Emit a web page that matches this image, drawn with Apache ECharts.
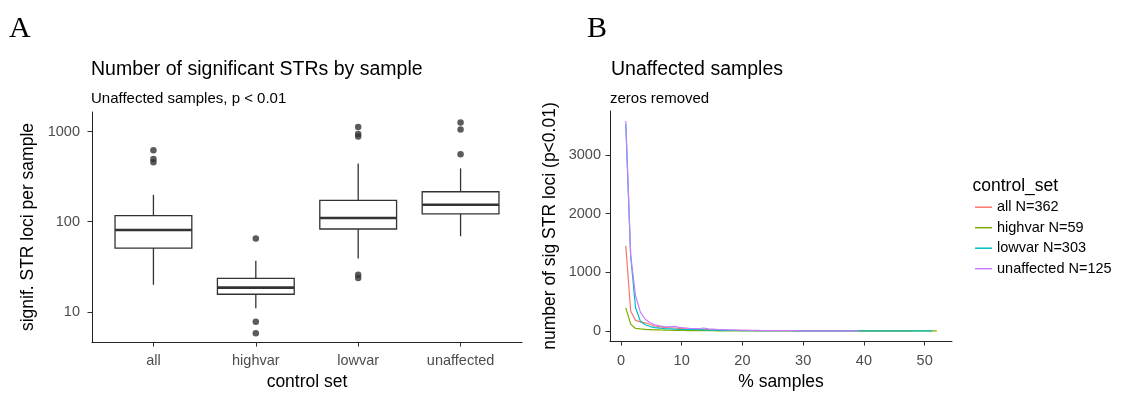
<!DOCTYPE html>
<html>
<head>
<meta charset="utf-8">
<script src="https://cdn.jsdelivr.net/npm/echarts@6/dist/echarts.min.js"></script>
<style>
html,body{margin:0;padding:0;background:#fff;}
#c{width:1123px;height:396px;}
</style>
</head>
<body>
<div id="c"></div>
<script>
// ---------- Panel A data ----------
const categories = ['all', 'highvar', 'lowvar', 'unaffected'];
// [lower whisker, Q1, median, Q3, upper whisker]
const boxAll = [20, 51, 81, 117, 199];
const boxHighvar = [11, 15.7, 18.6, 23.5, 37];
const boxLowvar = [39, 83, 110, 172, 441];
const boxUnaffected = [69, 122, 154, 215, 390];
const outAll = [620, 495, 456];
const outHighvar = [65, 7.8, 5.8];
const outLowvar = [1120, 940, 880, 25.9, 23.8];
const outUnaffected = [1260, 1050, 561];
const yTicksA = [10, 100, 1000];

// ---------- Panel B data ----------
const pctSamples = [0.8,1.6,2.4,3.2,4.0,4.8,5.6,6.4,7.2,8.0,8.8,9.6,10.4,11.2,12.0,12.8,13.6,14.4,15.2,16.0,
  16.8,17.6,18.4,19.2,20.0,20.8,21.6,22.4,23.2,24.0,24.8,25.6,26.4,27.2,28.0,28.8,29.6,30.4,31.2,32.0,
  32.8,33.6,34.4,35.2,36.0,36.8,37.6,38.4,39.2,40.0,40.8,41.6,42.4,43.2,44.0,44.8,45.6,46.4,47.2,48.0,
  48.8,49.6,50.4,51.2,52.0];
const lociAll = [1450,340,180,155,140,110,85,70,60,55,50,45,40,35,30,27,25,22,20,18,
  16,14,12,11,10,9,8,7,6,6,5,5,4,4,4,3,3,3,3,2,2,2,2,2,2,1,1,1,1,1,1,1,1,1,1,1,1,1,1,1];
const lociHighvar = [393,117,43,35,28,24,20,17,15,12,10,9,8,7,6,5,5,4,4,3,
  3,3,3,2,2,2,2,2,2,2,2,2,2,1,1,1,1,1,1,1,1,1,1,1,1,1,1,1,1,1,1,1,1,1,1,1,1,1,1,1,1,1,1,1,1];
const lociLowvar = [3520,1280,400,165,105,75,58,48,40,35,30,27,25,22,30,20,17,15,13,12,
  11,10,9,8,7,7,6,6,5,5,5,4,4,4,4,3,3,3,3,3,2,2,2,2,2,2,2,2,2,1,1,1,1,1,1,1,1,1,1,1,1,1,1,1];
const lociUnaffected = [3580,1300,600,320,200,140,105,85,72,70,77,62,55,45,40,38,50,35,30,25,
  22,18,16,15,12,11,10,9,8,7,7,6,5,5,4,4,3,3,3,2,2,2,2,1,1,1,1,1,1];
const seriesNames = ['all N=362', 'highvar N=59', 'lowvar N=303', 'unaffected N=125'];
const xTicksB = [0, 10, 20, 30, 40, 50];
const yTicksB = [0, 1000, 2000, 3000];

// ---------- build ----------
const FONT = 'Liberation Sans, Arial, sans-serif';
const SERIF = 'Liberation Serif, DejaVu Serif, serif';
const boxes = [boxAll, boxHighvar, boxLowvar, boxUnaffected];
const outs = [outAll, outHighvar, outLowvar, outUnaffected];
const colors = ['#F8766D', '#7CAE00', '#00BFC4', '#C77CFF'];
const lociSets = [lociAll, lociHighvar, lociLowvar, lociUnaffected];

const boxData = boxes.map((b, i) => [i].concat(b));
const outData = [];
outs.forEach((arr, i) => arr.forEach(v => outData.push([i, v])));

const axisLineStyle = { color: '#222', width: 1 };
const tickStyle = { color: '#333', width: 1 };
const labelGrey = '#4D4D4D';
const STROKE = '#333';

const lineSeries = lociSets.map((arr, s) => ({
  name: seriesNames[s],
  type: 'line',
  xAxisIndex: 1, yAxisIndex: 1,
  data: arr.map((v, k) => [pctSamples[k], v]),
  symbol: 'none',
  showSymbol: false,
  lineStyle: { color: colors[s], width: 1.2 },
  itemStyle: { color: colors[s] },
  animation: false
}));

function titleText(text, left, top, size, family) {
  return { text: text, left: left, top: top, padding: 0,
    textStyle: { fontFamily: family || FONT, fontSize: size, fontWeight: 'normal', color: '#000' } };
}

const chart = echarts.init(document.getElementById('c'), null, { renderer: 'canvas' });
chart.setOption({
  animation: false,
  backgroundColor: '#fff',
  title: [
    titleText('A', 9, 14, 30, SERIF),
    titleText('B', 587, 14, 30, SERIF),
    titleText('Number of significant STRs by sample', 91, 60, 19.5),
    titleText('Unaffected samples, p < 0.01', 91, 91, 15),
    titleText('Unaffected samples', 611, 60, 19.5),
    titleText('zeros removed', 610, 91, 15),
    titleText('control_set', 972.5, 177.5, 17.5)
  ],
  grid: [
    { left: 92, top: 112, width: 430, height: 236 },
    { left: 610, top: 111, width: 342, height: 235 }
  ],
  xAxis: [
    {
      type: 'value', gridIndex: 0, min: -0.6, max: 3.6,
      name: 'control set', nameLocation: 'middle', nameGap: 27,
      nameTextStyle: { fontFamily: FONT, fontSize: 17.5, color: '#000' },
      axisLine: { show: true, onZero: false, lineStyle: axisLineStyle },
      axisTick: { show: true, length: 4.5, lineStyle: tickStyle, customValues: [0, 1, 2, 3] },
      axisLabel: { customValues: [0, 1, 2, 3], formatter: v => categories[Math.round(v)] || '', fontFamily: FONT, fontSize: 14.5, color: labelGrey, margin: 11 },
      splitLine: { show: false }
    },
    {
      type: 'value', gridIndex: 1, min: -1.8, max: 54.5,
      name: '% samples', nameLocation: 'middle', nameGap: 28,
      nameTextStyle: { fontFamily: FONT, fontSize: 17.5, color: '#000' },
      axisLine: { show: true, onZero: false, lineStyle: axisLineStyle },
      axisTick: { show: true, length: 4.5, lineStyle: tickStyle, customValues: xTicksB },
      axisLabel: { customValues: xTicksB, formatter: v => String(v), fontFamily: FONT, fontSize: 14.5, color: labelGrey, margin: 12 },
      splitLine: { show: false }
    }
  ],
  yAxis: [
    {
      type: 'log', gridIndex: 0, min: 4.63, max: 1645, logBase: 10,
      name: 'signif. STR loci per sample', nameLocation: 'middle', nameGap: 55,
      nameTextStyle: { fontFamily: FONT, fontSize: 17.5, color: '#000' },
      axisLine: { show: true, onZero: false, lineStyle: axisLineStyle },
      axisTick: { show: true, length: 4.5, lineStyle: tickStyle, customValues: yTicksA },
      axisLabel: { customValues: yTicksA, formatter: v => String(Math.round(v)), fontFamily: FONT, fontSize: 14.5, color: labelGrey, margin: 12 },
      splitLine: { show: false }
    },
    {
      type: 'value', gridIndex: 1, min: -173, max: 3750,
      name: 'number of sig STR loci (p<0.01)', nameLocation: 'middle', nameGap: 51,
      nameTextStyle: { fontFamily: FONT, fontSize: 17.5, color: '#000' },
      axisLine: { show: true, onZero: false, lineStyle: axisLineStyle },
      axisTick: { show: true, length: 4.5, lineStyle: tickStyle, customValues: yTicksB },
      axisLabel: { customValues: yTicksB, formatter: v => String(v), fontFamily: FONT, fontSize: 14.5, color: labelGrey, margin: 9 },
      splitLine: { show: false }
    }
  ],
  legend: {
    data: seriesNames,
    orient: 'vertical',
    left: 975, top: 199.7, padding: 0,
    itemWidth: 17, itemHeight: 12, itemGap: 5.5,
    icon: 'path://M0,5 L17,5 L17,6.5 L0,6.5 Z',
    textStyle: { fontFamily: FONT, fontSize: 14.5, color: '#000' },
    selectedMode: false
  },
  series: [
    {
      type: 'custom', xAxisIndex: 0, yAxisIndex: 0,
      dimensions: ['pos', 'lo', 'q1', 'med', 'q3', 'hi'],
      encode: { x: 0, y: [1, 2, 3, 4, 5] },
      data: boxData,
      clip: false,
      renderItem: function (params, api) {
        const x = api.value(0);
        const lo = api.value(1), q1 = api.value(2), med = api.value(3), q3 = api.value(4), hi = api.value(5);
        const hw = 0.375;
        const pLo = api.coord([x, lo]), pHi = api.coord([x, hi]);
        const pQ1 = api.coord([x, q1]), pQ3 = api.coord([x, q3]);
        const pBL = api.coord([x - hw, q1]), pTR = api.coord([x + hw, q3]);
        const pML = api.coord([x - hw, med]), pMR = api.coord([x + hw, med]);
        return {
          type: 'group',
          children: [
            { type: 'line', shape: { x1: pLo[0], y1: pLo[1], x2: pQ1[0], y2: pQ1[1] }, style: { stroke: STROKE, lineWidth: 1.3 } },
            { type: 'line', shape: { x1: pQ3[0], y1: pQ3[1], x2: pHi[0], y2: pHi[1] }, style: { stroke: STROKE, lineWidth: 1.3 } },
            { type: 'rect', shape: { x: pBL[0], y: pTR[1], width: pTR[0] - pBL[0], height: pBL[1] - pTR[1] }, style: { fill: '#fff', stroke: STROKE, lineWidth: 1.3 } },
            { type: 'line', shape: { x1: pML[0], y1: pML[1], x2: pMR[0], y2: pMR[1] }, style: { stroke: STROKE, lineWidth: 2.6 } }
          ]
        };
      },
      animation: false
    },
    {
      type: 'scatter', xAxisIndex: 0, yAxisIndex: 0,
      data: outData, symbolSize: 6.5,
      itemStyle: { color: '#333' },
      animation: false
    }
  ].concat(lineSeries)
});
</script>
</body>
</html>
